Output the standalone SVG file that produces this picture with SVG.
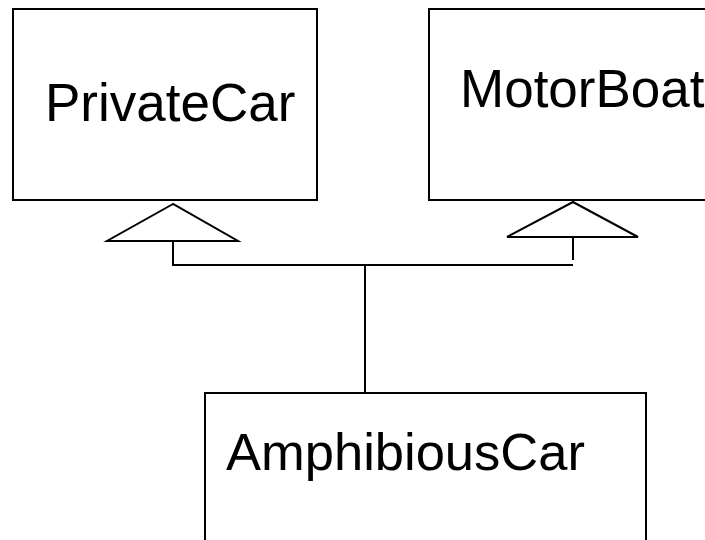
<svg xmlns="http://www.w3.org/2000/svg" width="705" height="540" viewBox="0 0 705 540">
  <style>
    .box { fill: #ffffff; stroke: #000000; stroke-width: 2; }
    .label { font-family: "Liberation Sans", Arial, sans-serif; font-size: 53px; fill: #000000; }
    .conn { fill: none; stroke: #000000; stroke-width: 2; }
    .head { fill: #ffffff; stroke: #000000; stroke-width: 2; stroke-linejoin: miter; }
  </style>
  <rect width="705" height="540" fill="#ffffff"/>

  <g id="PrivateCar">
    <rect class="box" x="13" y="9" width="304" height="191"/>
    <text class="label" x="45" y="121">PrivateCar</text>
  </g>

  <g id="MotorBoat">
    <rect class="box" x="429" y="9" width="300" height="191"/>
    <text class="label" x="460" y="107">MotorBoat</text>
  </g>

  <g id="AmphibiousCar">
    <rect class="box" x="205" y="393" width="441" height="170"/>
    <text class="label" x="226" y="470" style="font-size:52.5px">AmphibiousCar</text>
  </g>

  <g id="connectors">
    <!-- generalization to PrivateCar -->
    <polygon class="head" points="173,204 107,241 238,241"/>
    <!-- generalization to MotorBoat -->
    <polygon class="head" points="573,202 507,237 638,237"/>
    <polyline class="conn" points="173,241 173,265 573,265"/>
    <line class="conn" x1="573" y1="237" x2="573" y2="260"/>
    <line class="conn" x1="365" y1="265" x2="365" y2="393"/>
  </g>
</svg>
